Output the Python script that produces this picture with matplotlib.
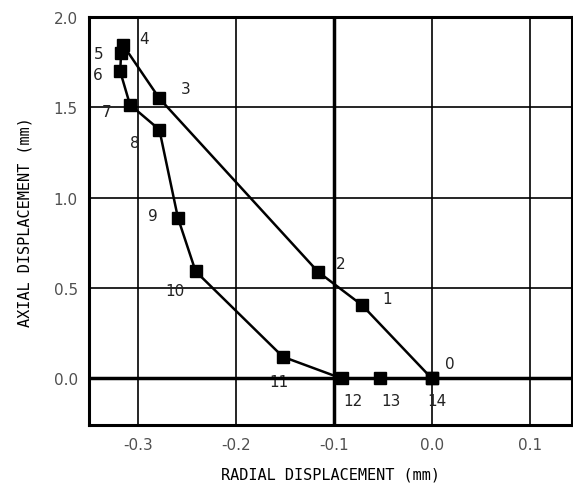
import numpy as np
import matplotlib.pyplot as plt

# point numbers and displacements (mm)
labels = [str(i) for i in range(15)]
radial = [0.0, -0.071, -0.116, -0.278, -0.315, -0.317, -0.318, -0.308,
          -0.278, -0.259, -0.241, -0.152, -0.092, -0.053, 0.0]
axial = [0.0, 0.405, 0.59, 1.55, 1.845, 1.80, 1.70, 1.515,
         1.377, 0.888, 0.593, 0.12, 0.0, 0.0, 0.0]

# label offsets in points
offsets = [(13, 11), (18, 5), (16, 6), (19, 7), (15, 5), (-16, 0), (-16, -2), (-17, -5),
           (-18, -9), (-18, 2), (-15, -14), (-3, -18), (8, -16), (8, -16), (4, -16)]

fig = plt.figure(figsize=(5.73, 4.89), dpi=100)
ax = fig.add_axes([0.155, 0.128, 0.843, 0.835])

ax.set_xlim(-0.35, 0.143)
ax.set_ylim(-0.26, 2.0)
ax.set_xticks([-0.3, -0.2, -0.1, 0.0, 0.1])
ax.set_yticks([0.0, 0.5, 1.0, 1.5, 2.0])
ax.set_xticklabels(['-0.3', '-0.2', '-0.1', '0.0', '0.1'])
ax.set_yticklabels(['0.0', '0.5', '1.0', '1.5', '2.0'])

ax.grid(True, color='black', linewidth=1.2)
ax.axvline(-0.1, color='black', linewidth=2.5, zorder=1)
ax.axhline(0.0, color='black', linewidth=2.5, zorder=1)

for s in ax.spines.values():
    s.set_linewidth(2.2)
ax.tick_params(length=0, labelsize=11, labelcolor='#505050', pad=8)

ax.plot(radial, axial, color='black', linewidth=1.8, marker='s',
        markersize=9, markerfacecolor='black', zorder=3)

for lab, x, y, off in zip(labels, radial, axial, offsets):
    ax.annotate(lab, (x, y), xytext=off, textcoords='offset points',
                ha='center', va='center', fontsize=11, color='#222222',
                zorder=0 if lab == '11' else 4)

ax.set_xlabel('RADIAL DISPLACEMENT (mm)', family='DejaVu Sans Mono',
              fontsize=11, labelpad=11)
ax.set_ylabel('AXIAL DISPLACEMENT (mm)', family='DejaVu Sans Mono',
              fontsize=11, labelpad=15)

fig.savefig('out.png', dpi=100)
